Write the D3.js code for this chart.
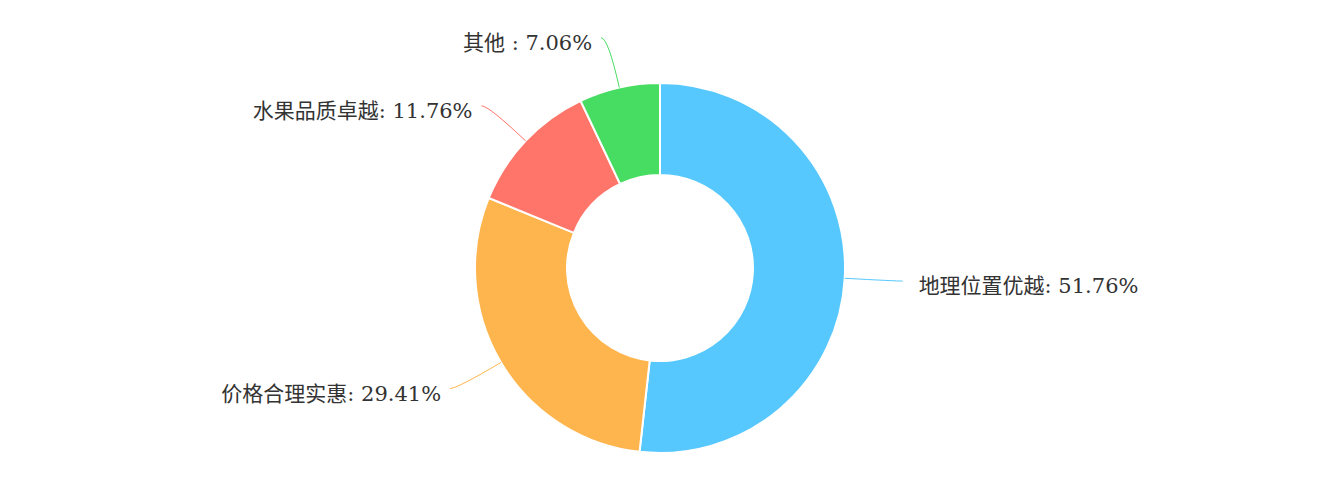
<!DOCTYPE html>
<html>
<head>
<meta charset="utf-8">
<script src="https://cdn.jsdelivr.net/npm/d3@7"></script>
<style>
  body { margin: 0; background: #fff; }
</style>
</head>
<body>
<div id="chart"></div>
<script>
// 資料
const names = ["地理位置优越", "价格合理实惠", "水果品质卓越", "其他"];
const counts = [44, 25, 10, 6];
const colors = ["#56c8fe", "#ffb54d", "#ff7569", "#47dc62"];

const width = 1320, height = 495;
const cx = 660, cy = 268;
const outerR = 185, innerR = 93;
const len1 = 51, len2 = 7;

const svg = d3.select("#chart").append("svg")
    .attr("width", width)
    .attr("height", height);

const g = svg.append("g").attr("transform", `translate(${cx},${cy})`);

const total = d3.sum(counts);
const data = names.map((n, i) => ({ name: n, value: counts[i], color: colors[i] }));

const pie = d3.pie().sort(null).value(d => d.value);
const arc = d3.arc().innerRadius(innerR).outerRadius(outerR);
const arcs = pie(data);

// 扇形
g.selectAll("path.slice")
    .data(arcs)
    .enter()
    .append("path")
    .attr("class", "slice")
    .attr("d", arc)
    .attr("fill", d => d.data.color)
    .attr("stroke", "#fff")
    .attr("stroke-width", 2);

// 標籤線與文字
arcs.forEach(d => {
    const mid = (d.startAngle + d.endAngle) / 2;
    const sx = Math.sin(mid), sy = -Math.cos(mid);
    const p0 = [outerR * sx, outerR * sy];
    const p1 = [(outerR + len1) * sx, (outerR + len1) * sy];
    const right = sx >= 0;
    const p2 = [p1[0] + (right ? len2 : -len2), p1[1]];

    g.append("path")
        .attr("d", `M${p0[0]},${p0[1]}Q${p1[0]},${p1[1]} ${p2[0]},${p2[1]}`)
        .attr("fill", "none")
        .attr("stroke", d.data.color)
        .attr("stroke-width", 1);

    const pct = (d.data.value / total * 100).toFixed(2);
    const sep = d.data.name === "其他" ? " : " : ": ";
    g.append("text")
        .attr("x", p2[0] + (right ? 16 : -9))
        .attr("y", p2[1] + 5)
        .attr("text-anchor", right ? "start" : "end")
        .attr("dominant-baseline", "central")
        .style("font-family", "'DejaVu Serif', 'Noto Sans CJK SC', serif")
        .style("font-size", "21px")
        .style("fill", "#333")
        .text(`${d.data.name}${sep}${pct}%`);
});
</script>
</body>
</html>
